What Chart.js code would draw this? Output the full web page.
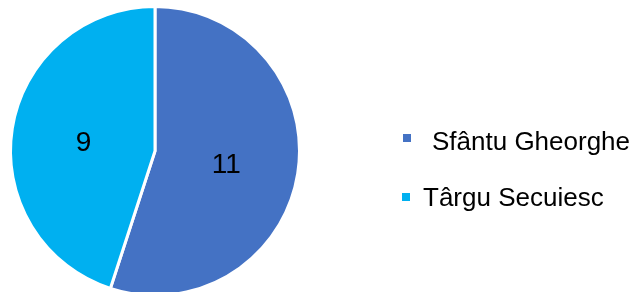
<!DOCTYPE html>
<html>
<head>
<meta charset="utf-8">
<script src="https://cdn.jsdelivr.net/npm/chart.js@4"></script>
<style>
  html, body { margin: 0; padding: 0; background: #fff; }
  #wrap { width: 637px; height: 292px; position: relative; }
</style>
</head>
<body>
<div id="wrap"><canvas id="pieChart" width="637" height="292"></canvas></div>
<script>
const cities = ['Sfântu Gheorghe', 'Târgu Secuiesc'];
const counts = [11, 9];
const sliceColors = ['#4472C4', '#00B0F0'];

const FONT = '"Liberation Sans", Arial, sans-serif';

// numbers in the middle of each slice
const sliceLabels = {
    id: 'sliceLabels',
    afterDatasetsDraw(chart) {
        const ctx = chart.ctx;
        const meta = chart.getDatasetMeta(0);
        ctx.save();
        ctx.font = '28px ' + FONT;
        ctx.fillStyle = '#000';
        ctx.textAlign = 'center';
        ctx.textBaseline = 'alphabetic';
        meta.data.forEach(function(arc, i) {
            const p = arc.tooltipPosition();
            ctx.fillText(String(counts[i]), p.x, p.y + 11);
        });
        ctx.restore();
    }
};

// legend on the right, drawn by hand to match spacing
const sideLegend = {
    id: 'sideLegend',
    afterDraw(chart) {
        const ctx = chart.ctx;
        const baselines = [150, 206];
        const boxes = [[403, 134], [402, 193]];
        const textX = [432, 423];
        ctx.save();
        ctx.font = '26px ' + FONT;
        ctx.textBaseline = 'alphabetic';
        ctx.textAlign = 'left';
        chart.data.labels.forEach(function(label, i) {
            ctx.fillStyle = chart.data.datasets[0].backgroundColor[i];
            ctx.fillRect(boxes[i][0], boxes[i][1], 8, 8);
            ctx.fillStyle = '#000';
            ctx.fillText(label, textX[i], baselines[i]);
        });
        ctx.restore();
    }
};

new Chart(document.getElementById('pieChart'), {
    type: 'pie',
    data: {
        labels: cities,
        datasets: [{
            data: counts,
            backgroundColor: sliceColors,
            borderColor: '#fff',
            borderWidth: 3,
            clip: false
        }]
    },
    options: {
        responsive: false,
        animation: false,
        radius: 144.5,
        layout: { padding: { left: 12, right: 339, top: 10, bottom: 0 } },
        plugins: {
            legend: { display: false },
            tooltip: { enabled: false }
        }
    },
    plugins: [sliceLabels, sideLegend]
});
</script>
</body>
</html>
